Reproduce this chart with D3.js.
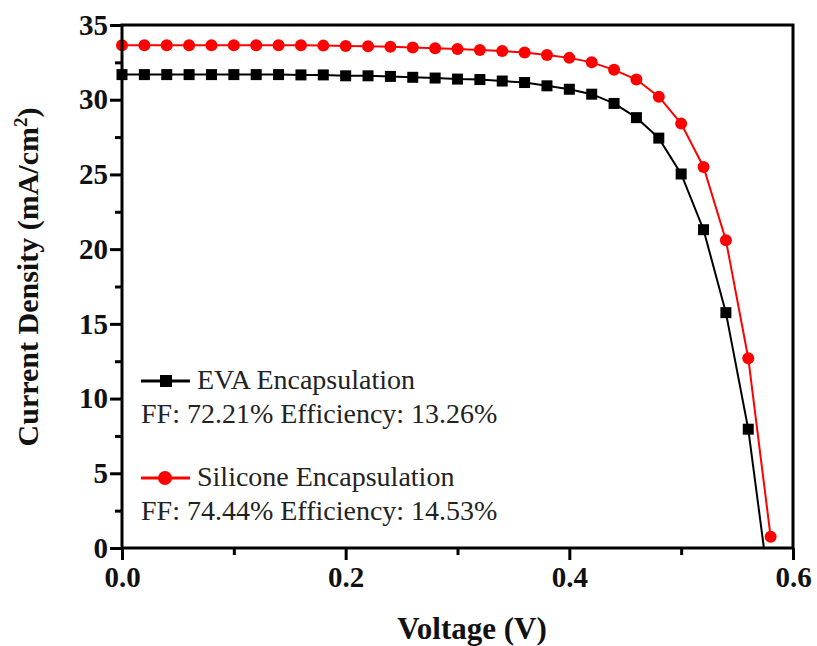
<!DOCTYPE html>
<html>
<head>
<meta charset="utf-8">
<script src="https://cdn.jsdelivr.net/npm/d3@7"></script>
<style>
	body { margin: 0; background: #fff; }
	svg { display: block; }
	svg text { font-family: "Liberation Serif", "DejaVu Serif", serif; }
</style>
</head>
<body>
<div id="chart"></div>
<script>
// J-V curves, EVA vs silicone encapsulation

var voltage = [0, 0.02, 0.04, 0.06, 0.08, 0.10, 0.12, 0.14, 0.16, 0.18, 0.20, 0.22, 0.24, 0.26, 0.28,
	0.30, 0.32, 0.34, 0.36, 0.38, 0.40, 0.42, 0.44, 0.46, 0.48, 0.50, 0.52, 0.54, 0.56, 0.58];

var silicone = [33.65, 33.65, 33.65, 33.65, 33.65, 33.65, 33.65, 33.65, 33.64, 33.62, 33.6, 33.58, 33.55, 33.5, 33.45,
	33.4, 33.33, 33.26, 33.16, 33.0, 32.8, 32.5, 32.0, 31.35, 30.2, 28.4, 25.5, 20.6, 12.7, 0.75];

var evaVoltage = [0, 0.02, 0.04, 0.06, 0.08, 0.10, 0.12, 0.14, 0.16, 0.18, 0.20, 0.22, 0.24, 0.26, 0.28,
	0.30, 0.32, 0.34, 0.36, 0.38, 0.40, 0.42, 0.44, 0.46, 0.48, 0.50, 0.52, 0.54, 0.56, 0.574];

var eva = [31.68, 31.68, 31.68, 31.68, 31.68, 31.68, 31.68, 31.68, 31.66, 31.66, 31.6, 31.6, 31.56, 31.5, 31.45,
	31.38, 31.35, 31.25, 31.15, 30.93, 30.7, 30.37, 29.75, 28.8, 27.43, 25.03, 21.3, 15.75, 7.95, 0];

var xTicks = [0, 0.2, 0.4, 0.6];
var xMinor = [0.1, 0.3, 0.5];
var yTicks = [0, 5, 10, 15, 20, 25, 30, 35];
var yMinor = [2.5, 7.5, 12.5, 17.5, 22.5, 27.5, 32.5];

var legendItems = [
	{ name: 'EVA Encapsulation', note: 'FF: 72.21% Efficiency: 13.26%', color: '#000', shape: 'square' },
	{ name: 'Silicone Encapsulation', note: 'FF: 74.44% Efficiency: 14.53%', color: '#ff0000', shape: 'circle' }
];

var width = 817, height = 646;
var margin = { left: 122, right: 24, top: 25, bottom: 98 };

var svg = d3.select('#chart')
	.append('svg')
		.attr('width', width)
		.attr('height', height);

var x = d3.scaleLinear().domain([0, 0.6]).range([margin.left, width - margin.right]);
var y = d3.scaleLinear().domain([0, 35]).range([height - margin.bottom, margin.top]);

var series = [
	{ xs: evaVoltage, ys: eva, color: '#000', shape: 'square' },
	{ xs: voltage, ys: silicone, color: '#ff0000', shape: 'circle' }
];

var line = d3.line()
	.x(function(d) { return x(d[0]); })
	.y(function(d) { return y(d[1]); });

series.forEach(function(s)
{
	var pts = s.xs.map(function(v, i) { return [v, s.ys[i]]; });
	var g = svg.append('g');
	g.append('path')
		.datum(pts)
		.attr('d', line)
		.attr('fill', 'none')
		.attr('stroke', s.color)
		.attr('stroke-width', 2);
	// no marker where the curve meets the axis
	var marked = pts.filter(function(d) { return d[1] > 0; });
	if (s.shape == 'square')
	{
		g.selectAll('rect')
			.data(marked)
			.enter().append('rect')
				.attr('x', function(d) { return x(d[0]) - 5.5; })
				.attr('y', function(d) { return y(d[1]) - 5.5; })
				.attr('width', 11)
				.attr('height', 11)
				.attr('fill', s.color);
	}
	else
	{
		g.selectAll('circle')
			.data(marked)
			.enter().append('circle')
				.attr('cx', function(d) { return x(d[0]); })
				.attr('cy', function(d) { return y(d[1]); })
				.attr('r', 6)
				.attr('fill', s.color);
	}
});

// frame
svg.append('rect')
	.attr('x', x(0))
	.attr('y', y(35))
	.attr('width', x(0.6) - x(0))
	.attr('height', y(0) - y(35))
	.attr('fill', 'none')
	.attr('stroke', '#000')
	.attr('stroke-width', 3);

svg.append('g')
	.attr('transform', 'translate(0,' + y(0) + ')')
	.call(d3.axisBottom(x).tickValues(xTicks).tickSize(12).tickPadding(6).tickFormat(d3.format('.1f')));
svg.append('g')
	.attr('transform', 'translate(0,' + y(0) + ')')
	.call(d3.axisBottom(x).tickValues(xMinor).tickSize(7).tickFormat(''));

svg.append('g')
	.attr('transform', 'translate(' + x(0) + ',0)')
	.call(d3.axisLeft(y).tickValues(yTicks).tickSize(12).tickPadding(2));
svg.append('g')
	.attr('transform', 'translate(' + x(0) + ',0)')
	.call(d3.axisLeft(y).tickValues(yMinor).tickSize(7).tickFormat(''));

svg.selectAll('.domain').remove();
svg.selectAll('.tick line').attr('stroke', '#000').attr('stroke-width', 3);
svg.selectAll('.tick text')
	.attr('fill', '#111')
	.attr('font-family', '"Liberation Serif", serif')
	.style('font-weight', 'bold')
	.style('font-size', '29px');

// axis titles
svg.append('text')
	.attr('x', 472)
	.attr('y', 639)
	.attr('text-anchor', 'middle')
	.style('font-weight', 'bold')
	.style('font-size', '31px')
	.attr('fill', '#111')
	.text('Voltage (V)');

var yt = svg.append('text')
	.attr('transform', 'translate(38,277) rotate(-90)')
	.attr('text-anchor', 'middle')
	.style('font-weight', 'bold')
	.style('font-size', '30px')
	.attr('fill', '#111');
yt.append('tspan').text('Current Density (mA/cm');
yt.append('tspan').attr('dy', -11).style('font-size', '19px').text('2');
yt.append('tspan').attr('dy', 11).text(')');

// legend
var legY = [381, 478];
legendItems.forEach(function(d, i)
{
	var g = svg.append('g').attr('transform', 'translate(0,' + legY[i] + ')');
	g.append('line')
		.attr('x1', 141).attr('x2', 190)
		.attr('stroke', d.color)
		.attr('stroke-width', 3);
	if (d.shape == 'square')
		g.append('rect').attr('x', 160).attr('y', -6).attr('width', 12).attr('height', 12).attr('fill', d.color);
	else
		g.append('circle').attr('cx', 165).attr('r', 7).attr('fill', d.color);
	g.append('text')
		.attr('x', 197)
		.attr('y', 8)
		.style('font-size', '28px')
		.attr('fill', '#222')
		.text(d.name);
	g.append('text')
		.attr('x', 141)
		.attr('y', 42)
		.style('font-size', '28px')
		.attr('fill', '#222')
		.text(d.note);
});
</script>
</body>
</html>
